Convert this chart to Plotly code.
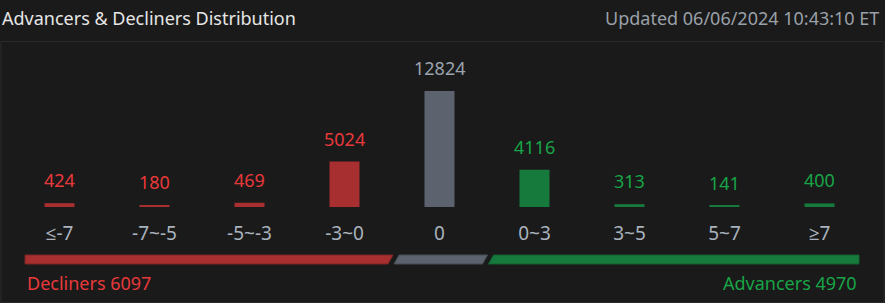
import plotly.graph_objects as go

# ---- data ----
categories = ["≤-7", "-7~-5", "-5~-3", "-3~0", "0", "0~3", "3~5", "5~7", "≥7"]
counts = [424, 180, 469, 5024, 12824, 4116, 313, 141, 400]
groups = ["down", "down", "down", "down", "flat", "up", "up", "up", "up"]
decliners_total = 6097
advancers_total = 4970
title_text = "Advancers & Decliners Distribution"
updated_text = "Updated 06/06/2024 10:43:10 ET"

# ---- style ----
W, H = 885, 303
ML, MR, MT, MB = 12, 18, 50, 96
PW, PH = W - ML - MR, H - MT - MB
BG = "#1a1a1a"
FONT = "Noto Sans, Open Sans, sans-serif"
bar_colors = {"down": "#a82f2f", "flat": "#5c636e", "up": "#177a3d"}
text_colors = {"down": "#e8393a", "flat": "#9aa3ae", "up": "#18a447"}
tick_color = "#a9b2bd"


def px_x(x):
    return (x - ML) / PW


def px_y(y):
    return (H - MB - y) / PH


n = len(categories)
idx = list(range(n))

fig = go.Figure()
fig.add_trace(go.Bar(
    x=idx,
    y=counts,
    marker=dict(color=[bar_colors[g] for g in groups], line=dict(width=0)),
    hoverinfo="skip",
))

ymax = max(counts) * 1.353

annotations = []
for i, v, g in zip(idx, counts, groups):
    annotations.append(dict(
        x=i, y=v, xref="x", yref="y", text=str(v), showarrow=False,
        yanchor="bottom", yshift=9,
        font=dict(family=FONT, size=18, color=text_colors[g]),
    ))

# header
annotations.append(dict(
    x=px_x(0), y=px_y(18), xref="paper", yref="paper", text=title_text,
    showarrow=False, xanchor="left", yanchor="middle",
    font=dict(family=FONT, size=18, color="#e6e6e6"),
))
annotations.append(dict(
    x=px_x(881), y=px_y(18), xref="paper", yref="paper", text=updated_text,
    showarrow=False, xanchor="right", yanchor="middle",
    font=dict(family=FONT, size=18, color="#9aa0a8"),
))

# summary bar below the axis: segments aligned to category groups
unit = PW / n  # px per category
first_flat = groups.index("flat")
last_flat = n - 1 - groups[::-1].index("flat")
b1 = first_flat - 0.5 + 1.5 / unit
b2 = last_flat + 0.5 + 1.0 / unit
half_gap = 3.0 / unit
slant = 2.5 / unit
yt, yb = px_y(255), px_y(264)
left_edge = -0.5 + 13.0 / unit
right_edge = n - 0.5 - 8.0 / unit


def poly(pts):
    return "M " + " L ".join(f"{x},{y}" for x, y in pts) + " Z"


shapes = [
    dict(type="rect", xref="paper", yref="paper",
         x0=px_x(1), x1=px_x(884), y0=px_y(41.5), y1=px_y(302.5),
         line=dict(color="#2a2a2a", width=1), fillcolor="rgba(0,0,0,0)", layer="below"),
    dict(type="path", xref="x", yref="paper",
         path=poly([(left_edge, yt), (b1 - half_gap + slant, yt), (b1 - half_gap - slant, yb), (left_edge, yb)]),
         fillcolor=bar_colors["down"], line=dict(color="#7d2424", width=1)),
    dict(type="path", xref="x", yref="paper",
         path=poly([(b1 + half_gap + slant, yt), (b2 - half_gap + slant, yt), (b2 - half_gap - slant, yb), (b1 + half_gap - slant, yb)]),
         fillcolor=bar_colors["flat"], line=dict(color="#474c55", width=1)),
    dict(type="path", xref="x", yref="paper",
         path=poly([(b2 + half_gap + slant, yt), (right_edge, yt), (right_edge, yb), (b2 + half_gap - slant, yb)]),
         fillcolor=bar_colors["up"], line=dict(color="#125e30", width=1)),
]

annotations.append(dict(
    x=left_edge, y=px_y(283), xref="x", yref="paper", text=f"Decliners {decliners_total}",
    showarrow=False, xanchor="left", yanchor="middle",
    font=dict(family=FONT, size=18, color=text_colors["down"]),
))
annotations.append(dict(
    x=right_edge, y=px_y(283), xref="x", yref="paper", text=f"Advancers {advancers_total}",
    showarrow=False, xanchor="right", yanchor="middle",
    font=dict(family=FONT, size=18, color=text_colors["up"]),
))

fig.update_layout(
    width=W, height=H,
    margin=dict(l=ML, r=MR, t=MT, b=MB, pad=0),
    paper_bgcolor=BG, plot_bgcolor=BG,
    showlegend=False,
    bargap=0.684,
    annotations=annotations,
    shapes=shapes,
    xaxis=dict(
        range=[-0.5, n - 0.5], showgrid=False, zeroline=False,
        showline=False, ticks="", ticklabelstandoff=13,
        tickmode="array", tickvals=idx, ticktext=categories,
        tickfont=dict(family=FONT, size=19, color=tick_color), fixedrange=True,
    ),
    yaxis=dict(
        range=[0, ymax], showgrid=False, zeroline=False, showline=False,
        showticklabels=False, ticks="", fixedrange=True,
    ),
)

fig.write_html("out.html", config={"displayModeBar": False})
